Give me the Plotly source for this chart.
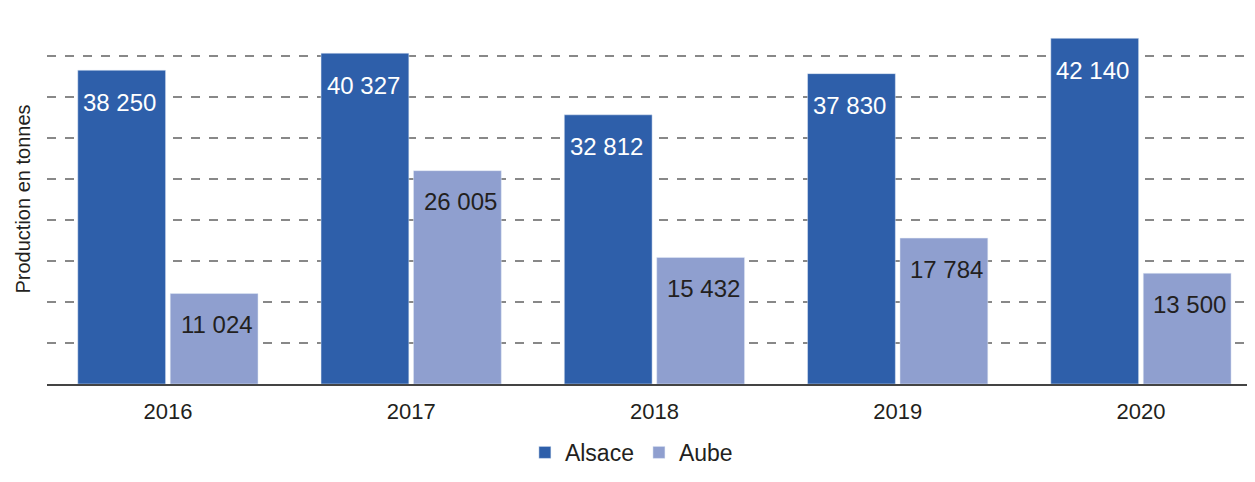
import plotly.graph_objects as go

years = [2016, 2017, 2018, 2019, 2020]
alsace = [38250, 40327, 32812, 37830, 42140]
aube = [11024, 26005, 15432, 17784, 13500]


def fmt(v):
    return f"{v:,}".replace(",", " ")


fig = go.Figure()
fig.add_trace(go.Bar(x=years, y=alsace, name="Alsace", marker_color="#2E5FAA"))
fig.add_trace(go.Bar(x=years, y=aube, name="Aube", marker_color="#8F9FCF"))

# value labels sit a little below the top of each bar
for yr, a, b in zip(years, alsace, aube):
    fig.add_annotation(x=yr, y=a, text=fmt(a), showarrow=False, xshift=-48, yshift=-32,
                       font=dict(size=24, color="white"))
    fig.add_annotation(x=yr, y=b, text=fmt(b), showarrow=False, xshift=49, yshift=-31,
                       font=dict(size=24, color="#231F20"))

fig.update_layout(
    margin=dict(l=39, r=0, t=6, b=74),
    font=dict(family="Liberation Sans, Arial, sans-serif", size=20, color="#231F20"),
    plot_bgcolor="white", paper_bgcolor="white",
    barmode="group", bargap=0.24, bargroupgap=0.05,
    legend=dict(orientation="h", x=0.487, xanchor="center", y=-0.185, yanchor="middle",
                font=dict(size=23)),
)
fig.update_xaxes(range=[2015.503, 2020.436], tickvals=years, showline=True,
                 linecolor="#444444", linewidth=2, ticks="outside", ticklen=7,
                 tickcolor="white", showgrid=False, zeroline=False,
                 tickfont=dict(size=22))
fig.update_yaxes(range=[0, 45100], dtick=5000, showticklabels=False, zeroline=False,
                 gridcolor="#888888", gridwidth=1.5, griddash="dash",
                 title=dict(text="Production en tonnes", standoff=10, font=dict(size=20)))

fig.write_html("out.html")
